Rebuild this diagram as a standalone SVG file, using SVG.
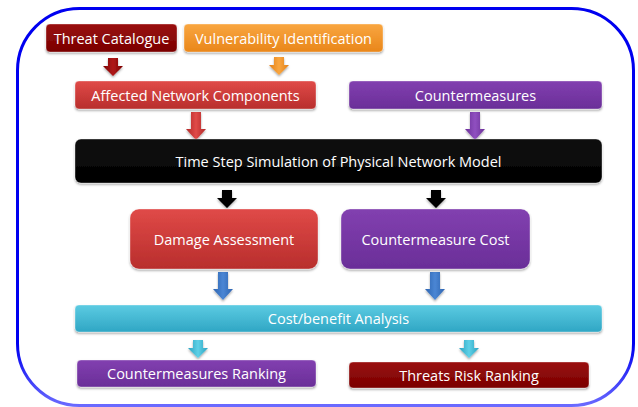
<svg xmlns="http://www.w3.org/2000/svg" width="638" height="407" viewBox="0 0 638 407">
<defs>
<linearGradient id="gDark" x1="0" y1="0" x2="0" y2="1"><stop offset="0" stop-color="#9a1010"/><stop offset="1" stop-color="#7a0000"/></linearGradient>
<linearGradient id="gOrange" x1="0" y1="0" x2="0" y2="1"><stop offset="0" stop-color="#f9a640"/><stop offset="1" stop-color="#e9861a"/></linearGradient>
<linearGradient id="gRed" x1="0" y1="0" x2="0" y2="1"><stop offset="0" stop-color="#e04a48"/><stop offset="1" stop-color="#b82e2c"/></linearGradient>
<linearGradient id="gPurple" x1="0" y1="0" x2="0" y2="1"><stop offset="0" stop-color="#8240b0"/><stop offset="1" stop-color="#6a2e98"/></linearGradient>
<linearGradient id="gBlack" x1="0" y1="0" x2="0" y2="1"><stop offset="0" stop-color="#111"/><stop offset="1" stop-color="#000"/></linearGradient>
<linearGradient id="gCyan" x1="0" y1="0" x2="0" y2="1"><stop offset="0" stop-color="#5ccbe2"/><stop offset="1" stop-color="#2fa6c4"/></linearGradient>
<linearGradient id="gBlue" x1="0" y1="0" x2="1" y2="0"><stop offset="0" stop-color="#2f64b0"/><stop offset="0.5" stop-color="#4a86d4"/><stop offset="1" stop-color="#2f64b0"/></linearGradient>
<linearGradient id="gCyanA" x1="0" y1="0" x2="1" y2="0"><stop offset="0" stop-color="#2aa2c0"/><stop offset="0.5" stop-color="#5fd0e6"/><stop offset="1" stop-color="#2aa2c0"/></linearGradient>
<linearGradient id="gRedA" x1="0" y1="0" x2="1" y2="0"><stop offset="0" stop-color="#b02828"/><stop offset="0.5" stop-color="#e04a48"/><stop offset="1" stop-color="#b02828"/></linearGradient>
<linearGradient id="gDarkA" x1="0" y1="0" x2="1" y2="0"><stop offset="0" stop-color="#7a0000"/><stop offset="0.5" stop-color="#b01818"/><stop offset="1" stop-color="#7a0000"/></linearGradient>
<linearGradient id="gOrangeA" x1="0" y1="0" x2="1" y2="0"><stop offset="0" stop-color="#e28018"/><stop offset="0.5" stop-color="#f9a640"/><stop offset="1" stop-color="#e28018"/></linearGradient>
<linearGradient id="gPurpleA" x1="0" y1="0" x2="1" y2="0"><stop offset="0" stop-color="#6a2e98"/><stop offset="0.5" stop-color="#9050c0"/><stop offset="1" stop-color="#6a2e98"/></linearGradient>
<linearGradient id="gBorder" x1="0" y1="0" x2="0" y2="1"><stop offset="0" stop-color="#0000f0"/><stop offset="0.85" stop-color="#0000f0"/><stop offset="1" stop-color="#6a6aff"/></linearGradient>
<filter id="sh" x="-10%" y="-20%" width="120%" height="150%"><feDropShadow dx="0" dy="1.5" stdDeviation="1.2" flood-color="#000" flood-opacity="0.35"/></filter>
<path id="arr" d="M-5,0 H5 V8 H10 L0,18 L-10,8 H-5 Z"/>
<path id="arrL" d="M-5,0 H5 V17 H10 L0,28 L-10,17 H-5 Z"/>
</defs>
<style>
.box{stroke:#ffffff;stroke-opacity:0.35;stroke-width:1;filter:url(#sh)}
.t{font-family:"Open Sans","Liberation Sans",sans-serif;font-size:14.5px;fill:#ffffff;text-anchor:middle;dominant-baseline:central}
.a{filter:url(#sh)}
</style>
<rect x="17.5" y="8.5" width="616" height="397" rx="62" ry="62" fill="#ffffff" stroke="url(#gBorder)" stroke-width="3"/>

<g id="connectors">
<use href="#arr" x="113" y="58" fill="url(#gDarkA)" class="a"/>
<use href="#arr" x="279" y="57" fill="url(#gOrangeA)" class="a"/>
<use href="#arrL" x="196" y="112" fill="url(#gRedA)" class="a"/>
<use href="#arrL" x="475" y="112" fill="url(#gPurpleA)" class="a"/>
<use href="#arr" x="227" y="190" fill="#000" class="a"/>
<use href="#arr" x="436" y="190" fill="#000" class="a"/>
<use href="#arrL" x="223" y="272" fill="url(#gBlue)" class="a"/>
<use href="#arrL" x="435" y="272" fill="url(#gBlue)" class="a"/>
<use href="#arr" x="198" y="340" fill="url(#gCyanA)" class="a"/>
<use href="#arr" x="469" y="340" fill="url(#gCyanA)" class="a"/>
</g>

<g id="threat-catalogue"><rect class="box" x="46" y="24" width="131" height="28" rx="4" fill="url(#gDark)"/><text class="t" x="111.5" y="38.5">Threat Catalogue</text></g>
<g id="vulnerability-identification"><rect class="box" x="184" y="24" width="199" height="28" rx="4" fill="url(#gOrange)"/><text class="t" x="283.5" y="38.5">Vulnerability Identification</text></g>
<g id="affected-network-components"><rect class="box" x="75" y="81" width="241" height="28" rx="4" fill="url(#gRed)"/><text class="t" x="195.5" y="95.5">Affected Network Components</text></g>
<g id="countermeasures"><rect class="box" x="349" y="81" width="253" height="28" rx="4" fill="url(#gPurple)"/><text class="t" x="475.5" y="95.5">Countermeasures</text></g>
<g id="time-step-simulation"><rect class="box" x="75" y="139" width="527" height="44" rx="6" fill="url(#gBlack)"/><text class="t" x="338.5" y="161.5">Time Step Simulation of Physical Network Model</text></g>
<g id="damage-assessment"><rect class="box" x="130" y="209" width="188" height="60" rx="9" fill="url(#gRed)"/><text class="t" x="224" y="239.5">Damage Assessment</text></g>
<g id="countermeasure-cost"><rect class="box" x="341" y="209" width="189" height="60" rx="9" fill="url(#gPurple)"/><text class="t" x="435.5" y="239.5">Countermeasure Cost</text></g>
<g id="cost-benefit-analysis"><rect class="box" x="75" y="305" width="527" height="27" rx="4" fill="url(#gCyan)"/><text class="t" x="338.5" y="318.5">Cost/benefit Analysis</text></g>
<g id="countermeasures-ranking"><rect class="box" x="77" y="360" width="239" height="27" rx="4" fill="url(#gPurple)"/><text class="t" x="196.5" y="373.5">Countermeasures Ranking</text></g>
<g id="threats-risk-ranking"><rect class="box" x="349" y="362" width="240" height="26" rx="4" fill="url(#gDark)"/><text class="t" x="469" y="375">Threats Risk Ranking</text></g>
</svg>
